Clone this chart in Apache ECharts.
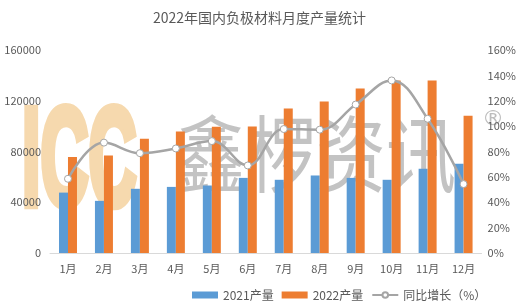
<!DOCTYPE html>
<html>
<head>
<meta charset="utf-8">
<script src="https://cdn.jsdelivr.net/npm/echarts@6/dist/echarts.min.js"></script>
<style>
  html, body { margin: 0; padding: 0; background: #fff; }
  #chart { width: 519px; height: 308px; }
</style>
</head>
<body>
<div id="chart"></div>
<script>
// data
const months = ['1月', '2月', '3月', '4月', '5月', '6月', '7月', '8月', '9月', '10月', '11月', '12月'];
const output2021 = [47600, 41100, 50600, 52100, 53200, 59200, 57700, 61100, 59200, 57700, 66400, 70300];
const output2022 = [75600, 76900, 90100, 95800, 99500, 99800, 113800, 119500, 129600, 135900, 135900, 108200];
const growth = [58.5, 87, 78.7, 82.4, 88.2, 69, 97.7, 97.2, 117, 136, 105.8, 54.3];

const font = '"Microsoft YaHei", "Noto Sans CJK SC", sans-serif';
const textColor = '#595959';

const chart = echarts.init(document.getElementById('chart'));

chart.setOption({
    animation: false,
    textStyle: { fontFamily: font },
    title: {
        text: '2022年国内负极材料月度产量统计',
        left: 'center',
        top: 6,
        textStyle: { fontSize: 14, fontWeight: 'normal', color: textColor, fontFamily: font }
    },
    // watermark, behind the bars
    graphic: [
        {
            type: 'text', x: 22, y: 98, scaleX: 0.52, scaleY: 1.08, z: 0,
            style: {
                text: 'ICC', font: 'bold 128px "Liberation Sans", sans-serif',
                fill: '#F6D9AE', stroke: '#F6D9AE', lineWidth: 8
            }
        },
        {
            type: 'text', x: 176, y: 112, scaleY: 1.2, z: 0,
            style: { text: '鑫椤资讯', font: '70px "Noto Sans CJK SC", sans-serif', fill: '#B8B8B8', opacity: 0.85 }
        },
        {
            type: 'text', x: 482, y: 108, z: 0,
            style: { text: '®', font: '22px "DejaVu Sans", sans-serif', fill: '#BDBDBD' }
        }
    ],
    legend: {
        bottom: 2,
        left: 187,
        itemWidth: 26,
        itemHeight: 7,
        itemGap: 8,
        textStyle: { fontSize: 12, color: textColor, fontFamily: font },
        data: [
            { name: '2021产量', icon: 'rect' },
            { name: '2022产量', icon: 'rect' },
            { name: '同比增长（%）' }
        ]
    },
    grid: { left: 50, right: 37, top: 50, bottom: 55 },
    xAxis: {
        type: 'category',
        data: months,
        axisLine: { lineStyle: { color: '#D9D9D9' } },
        axisTick: { show: false },
        axisLabel: { color: textColor, fontSize: 11, margin: 10 }
    },
    yAxis: [
        {
            type: 'value',
            min: 0, max: 160000, interval: 40000,
            splitLine: { show: false },
            axisLine: { show: false },
            axisTick: { show: false },
            axisLabel: { color: textColor, fontSize: 11, margin: 9, formatter: v => String(v) }
        },
        {
            type: 'value',
            min: 0, max: 160, interval: 20,
            splitLine: { show: false },
            axisLine: { show: false },
            axisTick: { show: false },
            axisLabel: { color: textColor, fontSize: 11, margin: 6, formatter: '{value}%' }
        }
    ],
    series: [
        {
            name: '2021产量',
            type: 'bar',
            data: output2021,
            barWidth: 9,
            barGap: '0%',
            itemStyle: { color: '#5B9BD5' }
        },
        {
            name: '2022产量',
            type: 'bar',
            data: output2022,
            barWidth: 9,
            itemStyle: { color: '#ED7D31' }
        },
        {
            name: '同比增长（%）',
            type: 'line',
            yAxisIndex: 1,
            data: growth,
            smooth: 0.4,
            symbol: 'circle',
            symbolSize: 7,
            lineStyle: { color: '#A5A5A5', width: 2.5 },
            itemStyle: { color: '#fff', borderColor: '#A5A5A5', borderWidth: 1 },
            z: 5
        }
    ]
});
</script>
</body>
</html>
